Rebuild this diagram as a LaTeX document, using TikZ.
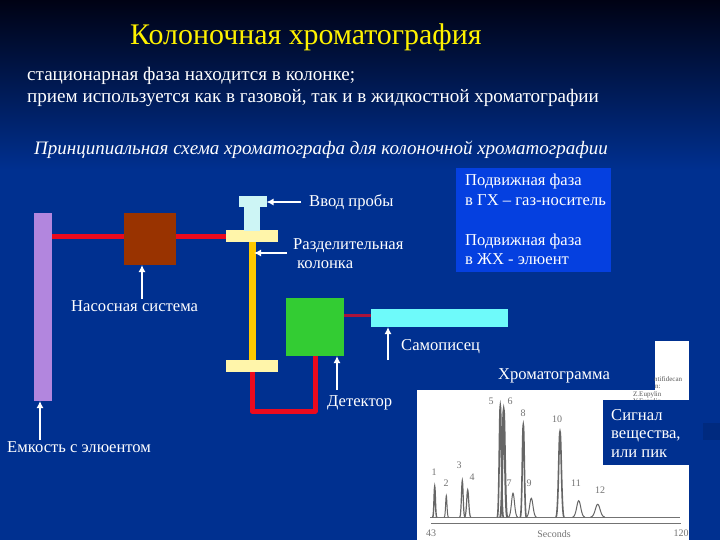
\documentclass[tikz,border=0pt]{standalone}
\usepackage{fontspec,tikz}
\setmainfont{Liberation Serif}
\definecolor{bgblue}{RGB}{0,48,144}
\definecolor{bgtop}{RGB}{0,2,20}
\definecolor{boxblue}{RGB}{5,64,224}
\definecolor{pipered}{RGB}{235,10,30}
\definecolor{linkred}{RGB}{170,20,60}
\definecolor{resvlilac}{RGB}{178,134,222}
\definecolor{pumpbrown}{RGB}{153,51,0}
\definecolor{flangeyellow}{RGB}{255,245,170}
\definecolor{injcyan}{RGB}{205,245,245}
\definecolor{colgold}{RGB}{255,200,0}
\definecolor{detgreen}{RGB}{51,204,51}
\definecolor{reccyan}{RGB}{110,250,250}
\usetikzlibrary{arrows.meta}
\tikzset{
  part/.style={inner sep=0pt,outer sep=0pt},
  label/.style={anchor=base west,inner sep=0pt,text=white,font=\fontsize{16.6}{20}\selectfont},
  ptr/.style={draw=white,line width=1.3pt,-{Latex[length=7pt,width=7pt]}},
  pipe/.style={draw=pipered,line width=5pt},
  peaklbl/.style={inner sep=0pt,text=black!55,font=\fontsize{10}{12}\selectfont},
  note/.style={anchor=base west,inner sep=0pt,text=black!65,font=\fontsize{7}{8}\selectfont},
}
\begin{document}
\begin{tikzpicture}[x=1pt,y=-1pt]
\path[use as bounding box] (0,0) rectangle (720,540);
\fill[top color=bgtop,bottom color=bgblue,shading angle=0] (0,0) rectangle (720,170);
\fill[bgblue] (0,170) rectangle (720,540);
\fill[bgblue!88!black] (703,423) rectangle (720,440);
% headings
\node[anchor=base west,inner sep=0pt,text=yellow,font=\fontsize{29.9}{36}\selectfont] (title) at (130,45) {Колоночная хроматография};
\node[anchor=base west,inner sep=0pt,text=white,font=\fontsize{19.1}{23}\selectfont] (line1) at (27,81) {стационарная фаза находится в колонке;};
\node[anchor=base west,inner sep=0pt,text=white,font=\fontsize{19.1}{23}\selectfont] (line2) at (27,103) {прием используется как в газовой, так и в жидкостной хроматографии};
\node[anchor=base west,inner sep=0pt,text=white,font=\fontsize{19}{23}\selectfont\itshape] (scheme) at (34,155) {Принципиальная схема хроматографа для колоночной хроматографии};
% phase box
\node[part,fill=boxblue,minimum width=155pt,minimum height=104pt] (phase) at (533.5,220) {};
\node[label] (phase1) at (465,186) {Подвижная фаза};
\node[label] (phase2) at (465,206) {в ГХ – газ-носитель};
\node[label] (phase3) at (465,245) {Подвижная фаза};
\node[label] (phase4) at (465,264) {в ЖХ - элюент};
% apparatus
\node[part,fill=resvlilac,minimum width=18pt,minimum height=188pt] (resv) at (43,307) {};
\node[part,fill=pumpbrown,minimum width=52pt,minimum height=52pt] (pump) at (150,239) {};
\node[part,fill=flangeyellow,minimum width=52pt,minimum height=12pt] (flangetop) at (252,236) {};
\node[part,fill=flangeyellow,minimum width=52pt,minimum height=12pt] (flangebot) at (252,366) {};
\node[part,fill=injcyan,minimum width=16pt,minimum height=24pt] (neck) at (252,219) {};
\node[part,fill=injcyan,minimum width=28pt,minimum height=11pt] (inj) at (252.5,201.5) {};
\node[part,fill=detgreen,minimum width=58pt,minimum height=58pt] (det) at (315,327) {};
\node[part,fill=reccyan,minimum width=137pt,minimum height=18pt] (rec) at (439.5,318) {};
\coordinate (loop) at (252,411);
\draw[colgold,line width=7pt] (flangetop.south) -- (flangebot.north);
\draw[pipe] (resv.east |- flangetop.west) -- (pump.west |- flangetop.west);
\draw[pipe] (pump.east |- flangetop.west) -- (flangetop.west);
\draw[pipe,line join=round] (flangebot.south) -- (loop) -| (det.south);
\draw[linkred,line width=3pt] (det.east |- 0,315) -- (rec.west |- 0,315);
% chromatogram
\fill[white] (655,341) rectangle (689,400);
\node[note] (note1) at (654,381) {ntifidecan};
\node[note] (note2) at (655,388) {n:};
\node[part,fill=bgblue,minimum width=155pt,minimum height=20pt] (chromlbl) at (573,380) {};
\fill[white] (417,390) rectangle (689,540);
\node[note] (note3) at (633,396) {Z.Eupylin};
\node[note] (note4) at (633,403) {Y.Eupylin};
\draw[black!55,line width=.6pt] (431,523) -- (681,523);
\draw[black!55,line width=.7pt] (430,517) -- (680,517);
\foreach \px/\py/\pw/\pl in {434.7/486.7/2/1.4,446.3/495.7/2/1,462.3/480.7/2.5/1.2,467.7/490/3/1.2,500.3/406/3/1.6,503.7/410/3.5/2,513/493.3/4.5/1,523.3/425/3/1.6,531.3/498.3/5/1,560/431.7/4/1.6,578.7/500.7/6/1,597.7/504.3/7/1}
  \draw[black!60,line width=\pl pt,line cap=round] (\px-\pw,517) .. controls (\px-\pw*.4,517) and (\px-\pw*.3,\py) .. (\px,\py) .. controls (\px+\pw*.3,\py) and (\px+\pw*.4,517) .. (\px+\pw,517);
\foreach \nm/\lx/\ly/\lt in {p1/434/472/1,p2/446/483/2,p3/459/465/3,p4/472/477/4,p5/491/401/5,p6/510/401/6,p7/509/483/7,p8/523/413/8,p9/529/483/9,p10/557/419/10,p11/576/483/11,p12/600/490/12}
  \node[peaklbl] (\nm) at (\lx,\ly) {\lt};
\node[peaklbl] (t0) at (431,533) {43};
\node[peaklbl] (t1) at (554,534) {Seconds};
\node[peaklbl] (t2) at (681,533) {120};
\node[part,fill=bgblue,minimum width=86pt,minimum height=65pt] (sigbox) at (646,432.5) {};
\node[label] (sig1) at (611,420) {Сигнал};
\node[label] (sig2) at (611,438) {вещества,};
\node[label] (sig3) at (611,457) {или пик};
% labels and pointers
\node[label] (lblinj) at (309,207) {Ввод пробы};
\node[label] (lblcol1) at (293,249) {Разделительная};
\node[label] (lblcol2) at (297,268) {колонка};
\node[label] (lblpump) at (71,311) {Насосная система};
\node[label] (lblrec) at (401,350) {Самописец};
\node[label] (lblchrom) at (498,379) {Хроматограмма};
\node[label] (lbldet) at (327,406) {Детектор};
\node[label] (lblresv) at (7,452) {Емкость с элюентом};
\coordinate (ptinj) at (301,202);
\coordinate (ptcol) at (287,253);
\coordinate (ptpump) at (142,299);
\coordinate (ptrec) at (388,360);
\coordinate (ptdet) at (337,390);
\coordinate (ptresv) at (40,440);
\draw[ptr] (ptinj) -- (ptinj -| inj.east);
\draw[ptr] (ptcol) -- (254,253);
\draw[ptr] (ptpump) -- (ptpump |- pump.south);
\draw[ptr] (ptrec) -- (ptrec |- rec.south);
\draw[ptr] (ptdet) -- (ptdet |- det.south);
\draw[ptr] (ptresv) -- (ptresv |- resv.south);
\end{tikzpicture}
\end{document}
